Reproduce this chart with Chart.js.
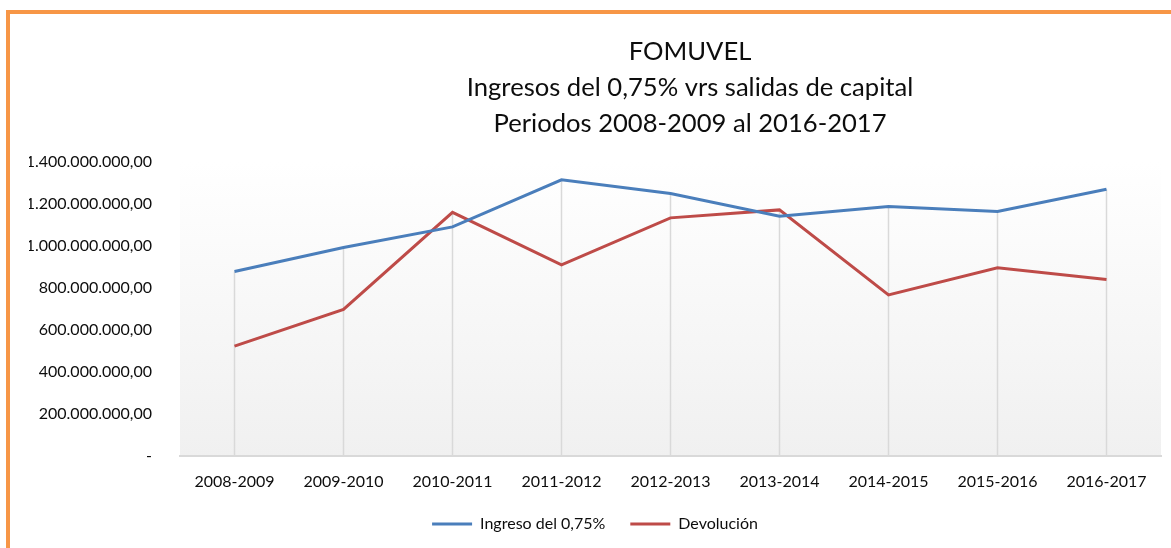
<!DOCTYPE html>
<html>
<head>
<meta charset="utf-8">
<script src="https://cdn.jsdelivr.net/npm/chart.js@4"></script>
<style>
  html, body { margin: 0; padding: 0; background: #fff; overflow: hidden; }
  #frame {
    position: absolute; left: 6px; top: 10px; width: 1200px; height: 600px;
    border-top: 4px solid #f79646; border-left: 4px solid #f79646;
  }
  #chart { position: absolute; left: 0; top: 0; }
</style>
</head>
<body>
<div id="frame"><canvas id="chart" width="1171" height="534"></canvas></div>
<script>
const periods = [
  "2008-2009", "2009-2010", "2010-2011", "2011-2012", "2012-2013",
  "2013-2014", "2014-2015", "2015-2016", "2016-2017",
];
const ingreso = [
  879000000, 993000000, 1091000000, 1315000000, 1250000000,
  1142000000, 1188000000, 1164000000, 1270000000,
];
const devolucion = [
  523000000, 698000000, 1160000000, 910000000, 1134000000,
  1172000000, 767000000, 896000000, 840000000,
];
const titleLines = [
  "FOMUVEL",
  "Ingresos del 0,75% vrs salidas de capital",
  "Periodos 2008-2009 al 2016-2017",
];
const yMin = 0;
const yMax = 1400000000;
const yStep = 200000000;

const textColor = "#0d0d0d";
Chart.defaults.font.family = "Lato";
Chart.defaults.font.size = 16;
Chart.defaults.color = textColor;

// 1.400.000.000,00 style, zero shown as a dash
function formatMoney(v) {
  if (v === 0) return "-";
  const parts = v.toFixed(2).split(".");
  return parts[0].replace(/\B(?=(\d{3})+(?!\d))/g, ".") + "," + parts[1];
}

const plotBackground = {
  id: "plotBackground",
  beforeDraw(chart) {
    const { ctx, chartArea } = chart;
    const grad = ctx.createLinearGradient(0, chartArea.top, 0, chartArea.bottom);
    grad.addColorStop(0, "#ffffff");
    grad.addColorStop(1, "#f0f0f0");
    ctx.save();
    ctx.fillStyle = grad;
    ctx.fillRect(chartArea.left, chartArea.top,
      chartArea.right - chartArea.left, chartArea.bottom - chartArea.top);
    ctx.restore();
  },
};

// excel style drop lines from the highest point down to the axis
const dropLines = {
  id: "dropLines",
  beforeDatasetsDraw(chart) {
    const { ctx, chartArea, scales } = chart;
    ctx.save();
    ctx.strokeStyle = "#d9d9d9";
    ctx.lineWidth = 1.5;
    periods.forEach((p, i) => {
      const px = scales.x.getPixelForValue(i);
      const top = Math.max(ingreso[i], devolucion[i]);
      ctx.beginPath();
      ctx.moveTo(px, scales.y.getPixelForValue(top));
      ctx.lineTo(px, chartArea.bottom);
      ctx.stroke();
    });
    ctx.restore();
  },
};

const titleBlock = {
  id: "titleBlock",
  afterDraw(chart) {
    const ctx = chart.ctx;
    ctx.save();
    ctx.fillStyle = textColor;
    ctx.font = "25.6px Lato";
    ctx.textAlign = "center";
    ctx.textBaseline = "alphabetic";
    titleLines.forEach((line, i) => {
      ctx.fillText(line, 680, 46 + i * 36);
    });
    ctx.restore();
  },
};

function lineSet(label, data, color) {
  return {
    label: label,
    data: data,
    borderColor: color,
    backgroundColor: color,
    borderWidth: 3,
    pointRadius: 0,
    pointHoverRadius: 0,
    pointStyle: "line",
    tension: 0,
  };
}

new Chart(document.getElementById("chart"), {
  type: "line",
  data: {
    labels: periods,
    datasets: [
      lineSet("Ingreso del 0,75%", ingreso, "#4a7ebb"),
      lineSet("Devolución", devolucion, "#be4b48"),
    ],
  },
  plugins: [plotBackground, dropLines, titleBlock],
  options: {
    responsive: false,
    animation: false,
    layout: {
      padding: { top: 148, right: 20, bottom: 6, left: 19 },
    },
    plugins: {
      legend: {
        position: "bottom",
        labels: {
          usePointStyle: true,
          pointStyleWidth: 40,
          boxHeight: 16,
          padding: 25,
          color: textColor,
          font: { size: 16 },
        },
      },
      tooltip: { enabled: false },
    },
    scales: {
      x: {
        offset: true,
        grid: { display: false, drawTicks: false },
        border: { display: true, color: "#d9d9d9", width: 2 },
        ticks: { padding: 16, color: textColor, maxRotation: 0 },
        afterFit(scale) { scale.height = 35; },
      },
      y: {
        min: yMin,
        max: yMax,
        grid: { display: false, drawTicks: false },
        border: { display: false },
        ticks: {
          stepSize: yStep,
          padding: 28,
          color: textColor,
          callback: (v) => formatMoney(v),
        },
        afterFit(scale) { scale.width = 151; },
      },
    },
  },
});
</script>
</body>
</html>
